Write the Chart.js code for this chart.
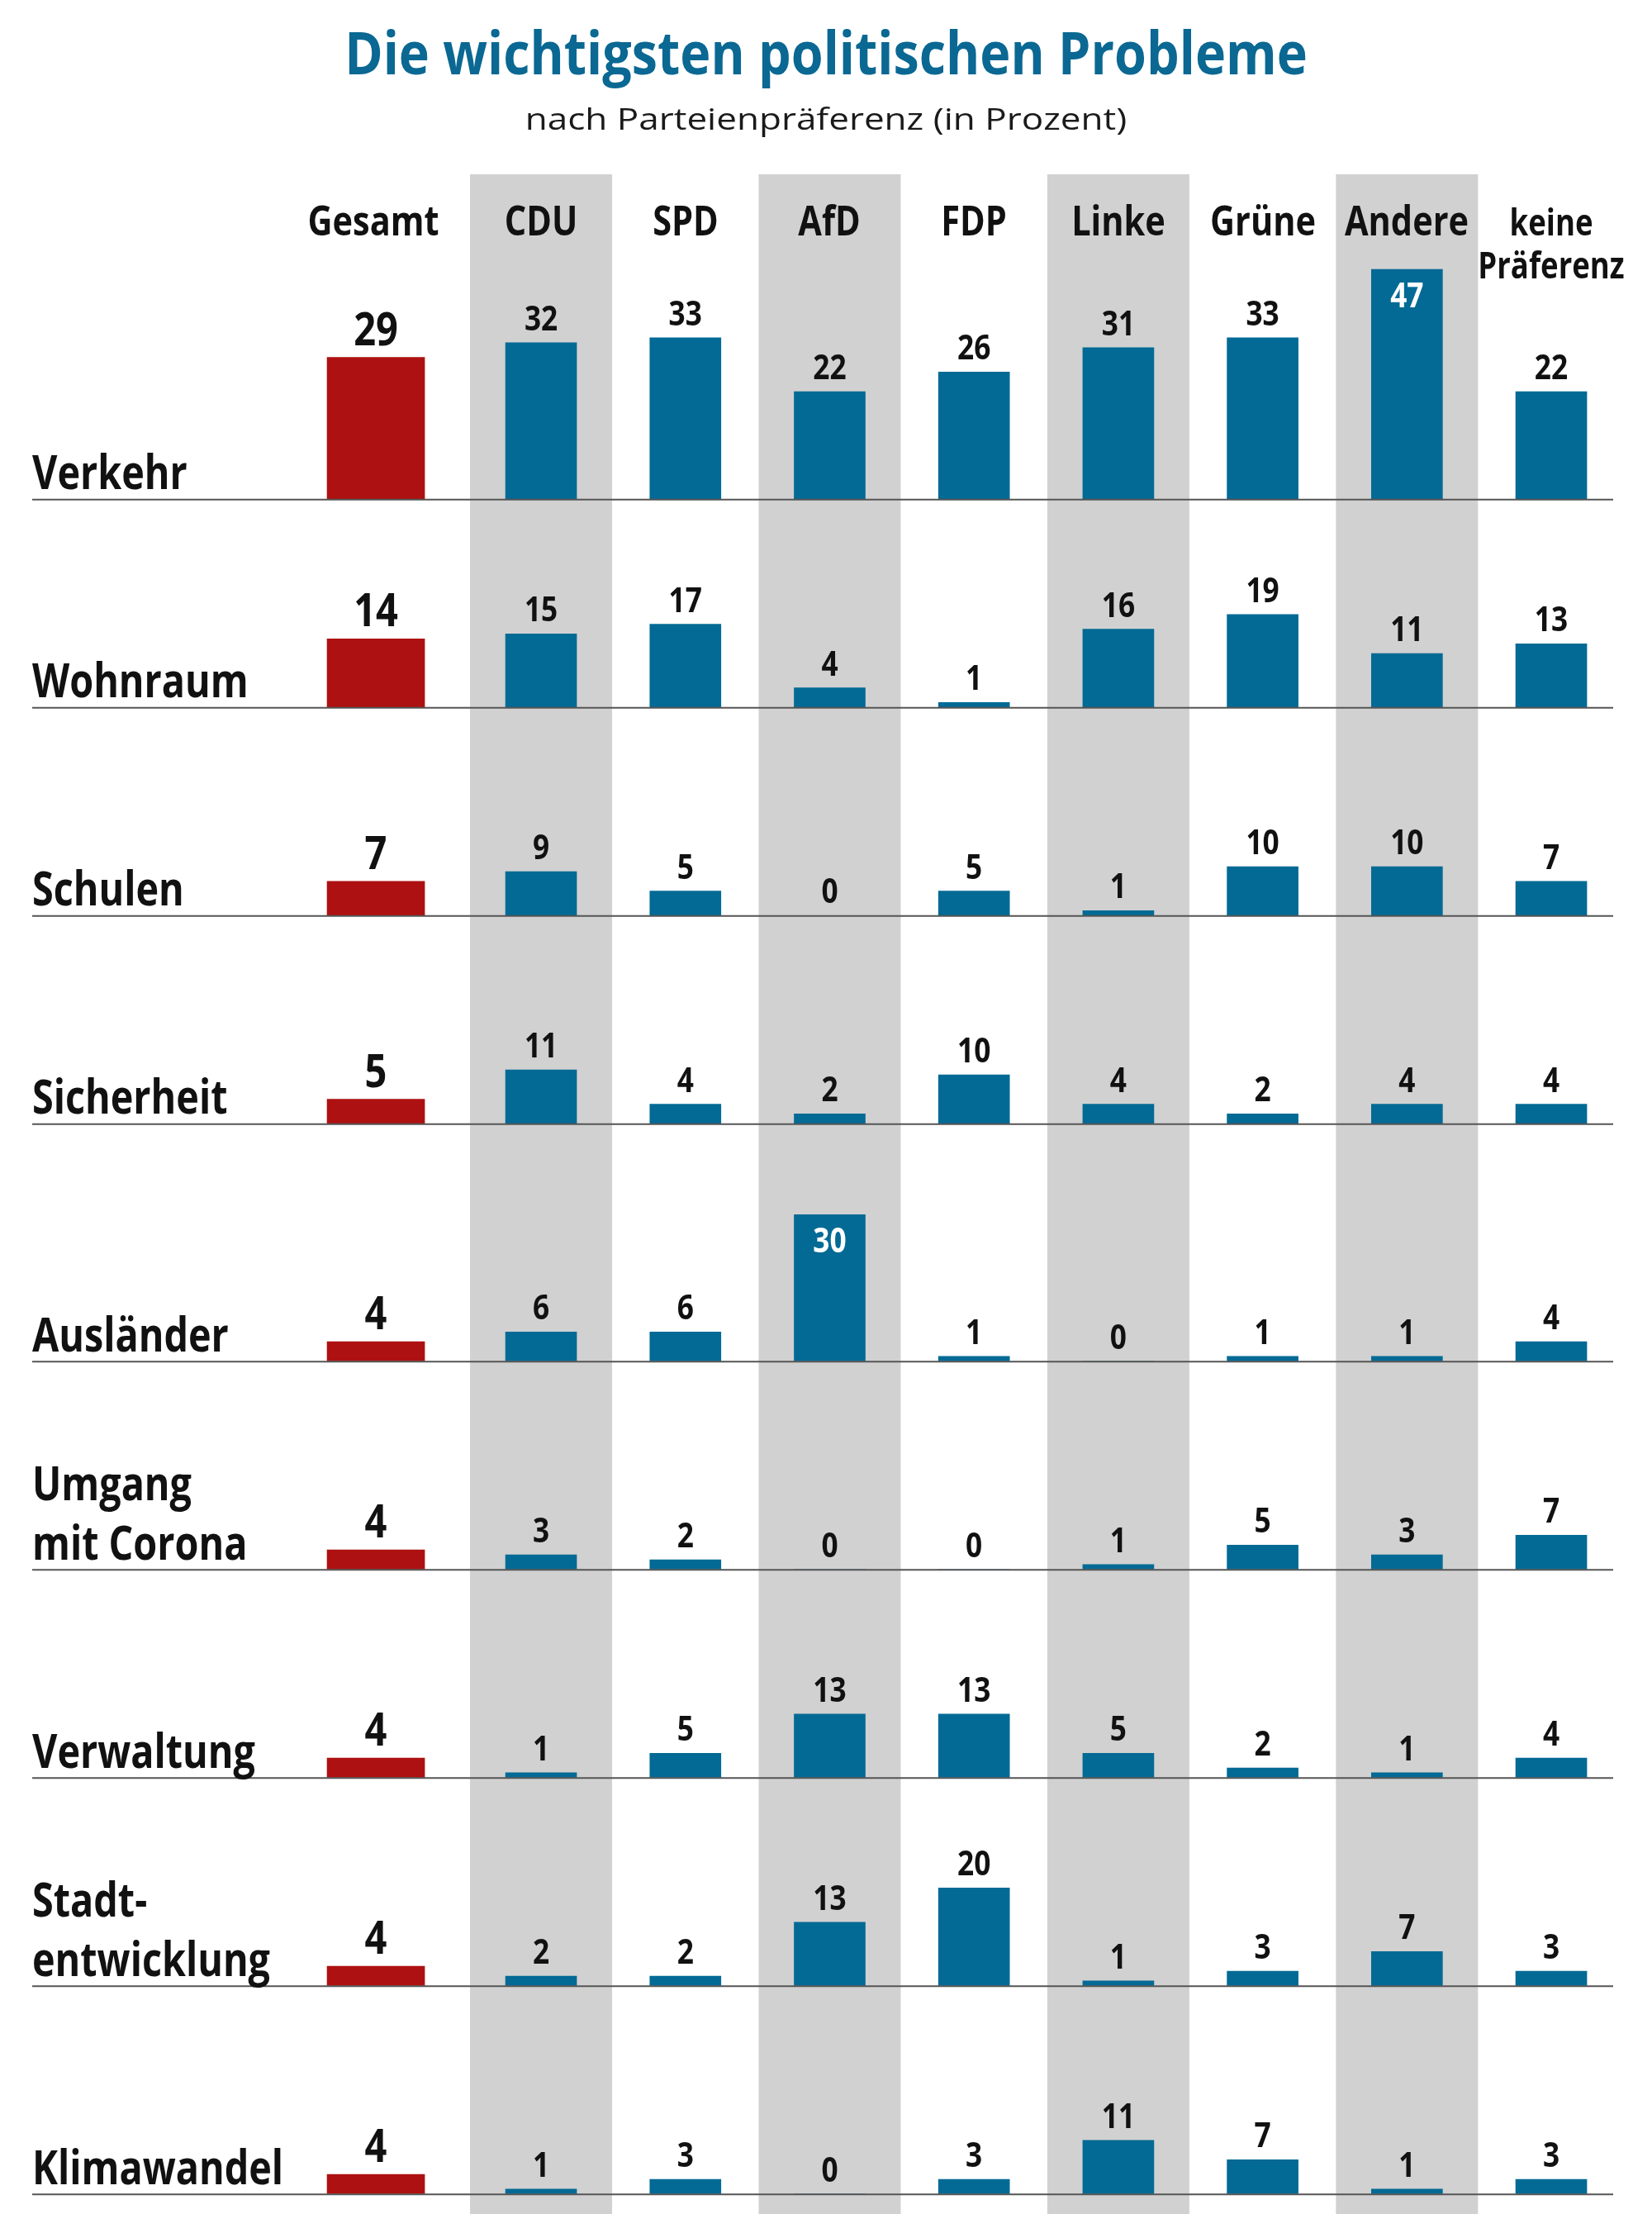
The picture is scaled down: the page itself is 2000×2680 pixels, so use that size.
<!DOCTYPE html>
<html lang="de"><head><meta charset="utf-8">
<script src="https://cdn.jsdelivr.net/npm/chart.js@4.4.1/dist/chart.umd.min.js"></script>
<style>
html,body{margin:0;padding:0;background:#fff;}
#wrap{position:relative;width:2000px;height:2680px;overflow:hidden;font-family:"Open Sans",sans-serif;}
#c{position:absolute;left:0;top:0;width:2000px;height:2680px;}
.t{position:absolute;white-space:nowrap;}
</style></head><body>
<div id="wrap"><canvas id="c" width="2000" height="2680"></canvas></div>
<script>
// ---------- data ----------
const titleText = 'Die wichtigsten politischen Probleme';
const subtitleText = 'nach Parteienpräferenz (in Prozent)';
const problems = [['Verkehr'],['Wohnraum'],['Schulen'],['Sicherheit'],['Ausländer'],['Umgang','mit Corona'],['Verwaltung'],['Stadt-','entwicklung'],['Klimawandel']];
const totalLabel = 'Gesamt';
const parties = [['CDU'],['SPD'],['AfD'],['FDP'],['Linke'],['Grüne'],['Andere'],['keine','Präferenz']];
const gesamt = [29,14,7,5,4,4,4,4,4];
const cdu    = [32,15,9,11,6,3,1,2,1];
const spd    = [33,17,5,4,6,2,5,2,3];
const afd    = [22,4,0,2,30,0,13,13,0];
const fdp    = [26,1,5,10,1,0,13,20,3];
const linke  = [31,16,1,4,0,1,5,1,11];
const gruene = [33,19,10,2,1,5,2,3,7];
const andere = [47,11,10,4,1,3,1,7,1];
const keine  = [22,13,7,4,4,7,4,3,3];
const partyValues = [cdu, spd, afd, fdp, linke, gruene, andere, keine];
const shaded = [true,false,true,false,true,false,true,false];

// ---------- layout / style ----------
const W = 2000, H = 2680;
const PX = 5.92;             // pixels per percentage point
const TOP = 211;             // top of the column bands
const HEADER_ROOM = 115, LABEL_ROOM = 110, MIN_BAND = 252;
const X_LEFT = 342.4, X_RIGHT_PAD = 34.6, GESAMT_W = 225.3;
const PARTY_W = W - X_LEFT - X_RIGHT_PAD - GESAMT_W;
const BAND_W = 172;
const LINE_L = 39, LINE_R = 1953;
const RED = '#ad1111', BLUE = '#036a95', TITLE_BLUE = '#0a6893', GREY = '#d1d1d1', INK = '#111111';
const INSIDE_MIN = 30;
const COND = 0.83;

const rowMax = problems.map((p, r) => Math.max(gesamt[r], ...partyValues.map(a => a[r])));
const bands = rowMax.map((m, r) => r === 0 ? m * PX + HEADER_ROOM : Math.max(MIN_BAND, m * PX + LABEL_ROOM));
const bandSum = bands.reduce((a, b) => a + b, 0);
const bottomPad = H - TOP - bandSum;

const scales = {
  xG: {type:'category', axis:'x', position:'bottom', labels:[totalLabel], offset:true, display:false, stack:'cols', stackWeight:GESAMT_W, weight:0},
  xP: {type:'category', axis:'x', position:'bottom', labels:parties.map(p => p.join(' ')), offset:true, display:false, stack:'cols', stackWeight:PARTY_W, weight:1}
};
problems.forEach((p, r) => {
  scales['y' + r] = {type:'linear', axis:'y', position:'right', min:0, max:bands[r] / PX, display:false, stack:'rows', stackWeight:bands[r], weight:r};
});

const datasets = [];
problems.forEach((p, r) => {
  datasets.push({label:totalLabel + ' – ' + p.join(' '), data:[gesamt[r]], xAxisID:'xG', yAxisID:'y' + r,
    backgroundColor:RED, barThickness:118, grouped:false, borderWidth:0});
  datasets.push({label:'Parteien – ' + p.join(' '), data:partyValues.map(a => a[r]), xAxisID:'xP', yAxisID:'y' + r,
    backgroundColor:BLUE, barThickness:86, grouped:false, borderWidth:0});
});

function condText(ctx, txt, x, y, sx) {
  ctx.save(); ctx.translate(x, y); ctx.scale(sx, 1); ctx.fillText(txt, 0, 0); ctx.restore();
}

const deco = {
  id:'deco',
  beforeDatasetsDraw(chart) {
    const ctx = chart.ctx, xP = chart.scales.xP, top = chart.chartArea.top;
    ctx.save();
    ctx.fillStyle = GREY;
    shaded.forEach((s, i) => {
      if (!s) return;
      const cx = xP.getPixelForValue(i);
      ctx.fillRect(cx - BAND_W / 2, top, BAND_W, chart.height - top);
    });
    ctx.restore();
  },
  afterDatasetsDraw(chart) {
    const ctx = chart.ctx;
    ctx.save();
    ctx.strokeStyle = '#555555'; ctx.lineWidth = 2;
    problems.forEach((p, r) => {
      const y = chart.scales['y' + r].getPixelForValue(0) + 0.5;
      ctx.beginPath(); ctx.moveTo(LINE_L, y); ctx.lineTo(LINE_R, y); ctx.stroke();
    });
    ctx.textAlign = 'center'; ctx.textBaseline = 'alphabetic';
    chart.data.datasets.forEach((ds, di) => {
      const r = Math.floor(di / 2), isTotal = di % 2 === 0;
      const meta = chart.getDatasetMeta(di);
      meta.data.forEach((bar, i) => {
        const v = ds.data[i];
        const inside = !isTotal && v === rowMax[r] && v >= INSIDE_MIN;
        const size = isTotal ? 56 : 42;
        ctx.font = `700 ${size}px "Open Sans", sans-serif`;
        ctx.fillStyle = inside ? '#ffffff' : INK;
        const y = inside ? bar.y + 46 : bar.y - 15;
        condText(ctx, String(v), bar.x, y, 0.84);
      });
    });
    ctx.restore();
  }
};

const chart = new Chart(document.getElementById('c'), {
  type:'bar',
  data:{datasets},
  options:{
    responsive:false, animation:false, devicePixelRatio:1, events:[],
    layout:{padding:{top:TOP, bottom:bottomPad, left:X_LEFT, right:X_RIGHT_PAD}},
    scales,
    plugins:{legend:{display:false}, tooltip:{enabled:false}, title:{display:false}}
  },
  plugins:[deco]
});

// ---------- real text overlays ----------
const wrap = document.getElementById('wrap');
function place(lines, o) {
  const d = document.createElement('div');
  d.className = 't';
  lines.forEach((l, k) => { if (k) d.appendChild(document.createElement('br')); d.appendChild(document.createTextNode(l)); });
  d.style.font = `${o.weight} ${o.size}px "Open Sans", sans-serif`;
  d.style.lineHeight = o.lh + 'px';
  d.style.color = o.color;
  const firstBase = o.baseline - (lines.length - 1) * o.lh;
  d.style.top = (firstBase - (o.lh / 2 + 0.388 * o.size)) + 'px';
  if (o.align === 'center') {
    const half = 1200;
    d.style.left = (o.x - half) + 'px'; d.style.width = (2 * half) + 'px'; d.style.textAlign = 'center';
    d.style.transformOrigin = '50% 0';
  } else {
    d.style.left = o.x + 'px'; d.style.transformOrigin = '0 0';
  }
  d.style.transform = `scaleX(${o.scale})`;
  wrap.appendChild(d);
}
place([titleText], {x:W / 2, baseline:91, size:71, weight:700, lh:80, color:TITLE_BLUE, scale:0.885, align:'center'});
place([subtitleText], {x:W / 2, baseline:157, size:37, weight:400, lh:44, color:'#1a1a1a', scale:1.19, align:'center'});
place([totalLabel], {x:chart.scales.xG.getPixelForValue(0) - 3, baseline:285, size:50, weight:700, lh:52, color:INK, scale:COND, align:'center'});
parties.forEach((p, i) => {
  const multi = p.length > 1;
  place(p, {x:chart.scales.xP.getPixelForValue(i), baseline:multi ? 337 : 285, size:multi ? 44 : 50, weight:700, lh:52, color:INK, scale:COND, align:'center'});
});
problems.forEach((p, r) => {
  const base = chart.scales['y' + r].getPixelForValue(0);
  place(p, {x:LINE_L, baseline:base - 12, size:57, weight:700, lh:72, color:INK, scale:0.82, align:'left'});
});
</script>
</body></html>
